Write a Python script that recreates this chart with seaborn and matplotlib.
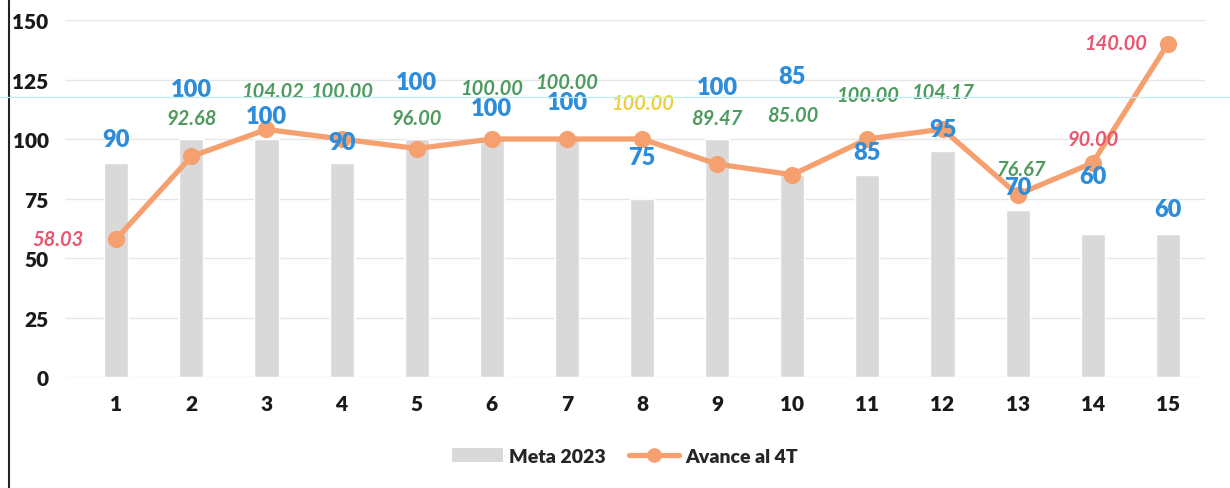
import numpy as np
import pandas as pd
import seaborn as sns
import matplotlib.pyplot as plt
from matplotlib.lines import Line2D
from matplotlib.patches import Patch

# data
categories = [str(i) for i in range(1, 16)]
meta_2023 = [90, 100, 100, 90, 100, 100, 100, 75, 100, 85, 85, 95, 70, 60, 60]
avance_4t = [58.03, 92.68, 104.02, 100.00, 96.00, 100.00, 100.00, 100.00,
             89.47, 85.00, 100.00, 104.17, 76.67, 90.00, 140.00]
avance_colors = ["red", "green", "green", "green", "green", "green", "green", "yellow",
                 "green", "green", "green", "green", "green", "red", "red"]

# label placement (offsets from the value, data units)
meta_dy = [10, 21, 9.7, 8.7, 24, 13, 15.5, 17.4, 22, 41.5, 9.5, 9, 10, 24.5, 10.6]
avance_dy = [0, 16.1, 16, 20, 12.8, 21.4, 24, 15, 19.3, 25, 18.5, 15.5, 10.7, 10, 0.3]
avance_dx = [-0.77, 0, 0.08, 0, 0, 0, 0, 0, 0, 0, 0, 0, 0.05, 0, -0.69]

BAR = "#d9d9d9"
LINE = "#f5a06e"
BLUE = "#2e8ddb"
TXT = {"red": "#e8566f", "green": "#4f9b5f", "yellow": "#f0cf3a"}

df = pd.DataFrame({"cat": categories, "meta": meta_2023, "avance": avance_4t})

sns.set_style("white")
plt.rcParams["font.family"] = ["Lato", "DejaVu Sans"]

fig = plt.figure(figsize=(12.3, 4.89), dpi=100)
ax = fig.add_axes([0.053, 0.227, 0.927, 0.73])

sns.barplot(data=df, x="cat", y="meta", color=BAR, width=0.32, saturation=1, ax=ax, zorder=2)
sns.pointplot(data=df, x="cat", y="avance", color=LINE, ax=ax, markers="o",
              linewidth=3.8, markersize=9.5, zorder=3)

for i, (m, a) in enumerate(zip(meta_2023, avance_4t)):
    ax.text(i, m + meta_dy[i], f"{m}", color=BLUE, fontsize=17, fontweight="heavy",
            ha="center", va="center", zorder=5)
    ax.text(i + avance_dx[i], a + avance_dy[i], f"{a:.2f}", color=TXT[avance_colors[i]],
            fontsize=14.5, fontweight="bold", fontstyle="italic",
            ha="center", va="center", zorder=5)

ax.set_xlim(-0.68, 14.5)
ax.set_ylim(0, 150)
ax.set_yticks([0, 25, 50, 75, 100, 125, 150])
ax.yaxis.grid(True, color="#e6e6e6", linewidth=1)
ax.set_axisbelow(True)
for s in ax.spines.values():
    s.set_visible(False)
ax.tick_params(length=0, labelsize=15, colors="#1a1a1a", pad=12)
for lab in ax.get_xticklabels() + ax.get_yticklabels():
    lab.set_fontweight("heavy")
ax.tick_params(axis="y", pad=12)
ax.set_xlabel("")
ax.set_ylabel("")

handles = [Patch(facecolor=BAR, edgecolor="none", label="Meta 2023"),
           Line2D([], [], color=LINE, lw=3.8, marker="o", markersize=9.5, label="Avance al 4T")]
fig.legend(handles=handles, loc="center", bbox_to_anchor=(0.508, 0.065), ncol=2,
           frameon=False, prop={"weight": "heavy", "size": 14}, handlelength=2.6,
           handletextpad=0.3, columnspacing=1.2)

# scan artefacts: left frame edge and cyan line
fig.add_artist(Line2D([0.007, 0.007], [0, 1], color="#222222", lw=1.5, transform=fig.transFigure))
fig.add_artist(Line2D([0, 1], [0.8, 0.8], color="#bfeef0", lw=0.9, transform=fig.transFigure))

fig.savefig("out.png", dpi=100)
